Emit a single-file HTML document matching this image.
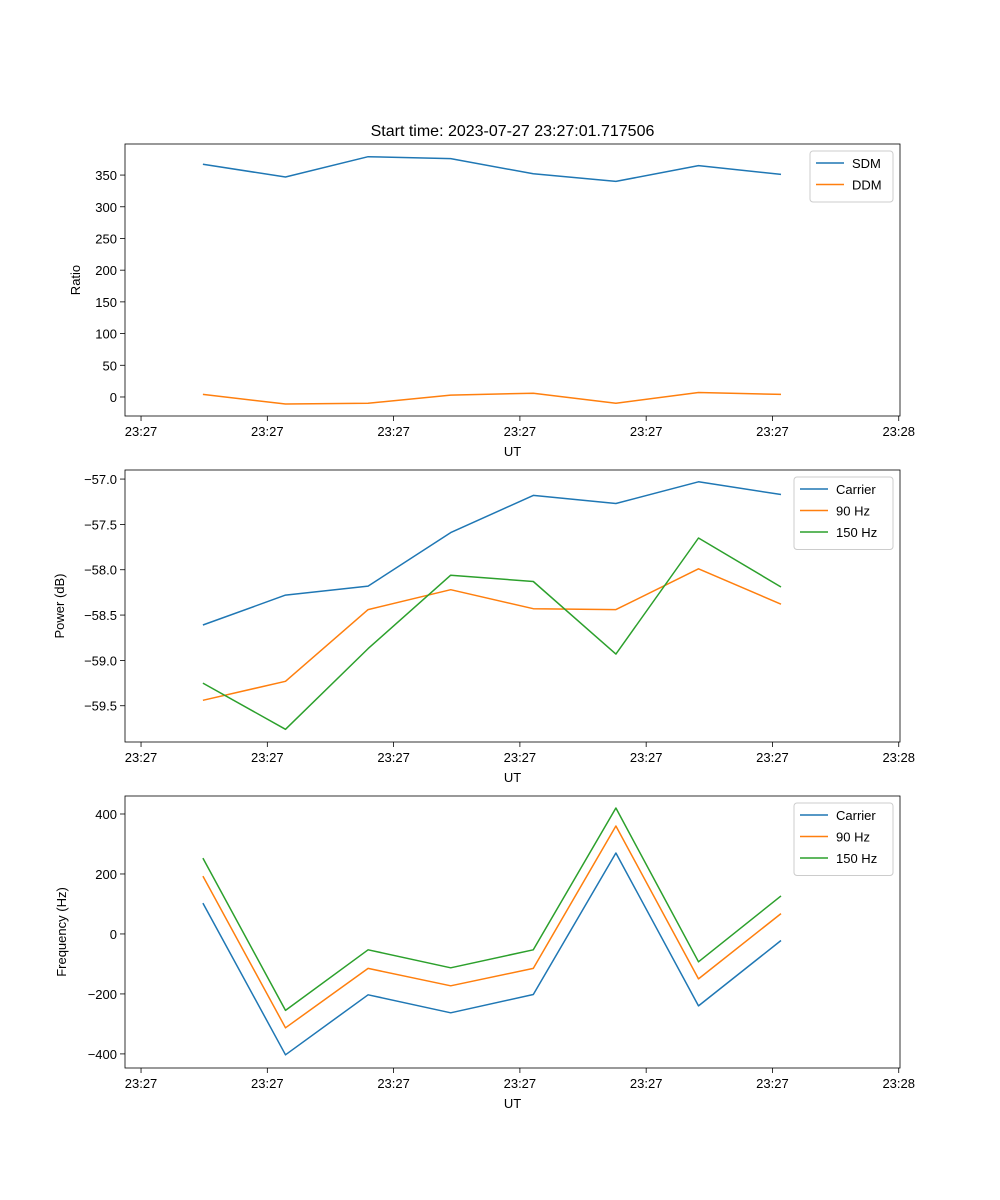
<!DOCTYPE html>
<html><head><meta charset="utf-8"><style>
html,body{margin:0;padding:0;background:#fff;}
svg{display:block;font-family:"Liberation Sans","DejaVu Sans",sans-serif;}
</style></head><body>
<svg id="fig" width="1000" height="1200" xmlns="http://www.w3.org/2000/svg"></svg>
<script>
// shared time axis (seconds after 23:27:00)
const times = [4.9, 11.44, 17.98, 24.52, 31.06, 37.6, 44.14, 50.68];
const xTickVals = [0, 10, 20, 30, 40, 50, 60];
const xTickLabels = ["23:27","23:27","23:27","23:27","23:27","23:27","23:28"];
// panel 1
const sdm = [367, 347, 379, 376, 352, 340, 365, 351];
const ddm = [4, -11, -10, 3, 6, -10, 7, 4];
const ratioTicks = [0, 50, 100, 150, 200, 250, 300, 350];
// panel 2
const powCarrier = [-58.61, -58.28, -58.18, -57.59, -57.18, -57.27, -57.03, -57.17];
const pow90 = [-59.44, -59.23, -58.44, -58.22, -58.43, -58.44, -57.99, -58.38];
const pow150 = [-59.25, -59.76, -58.87, -58.06, -58.13, -58.93, -57.65, -58.19];
const powTicks = [-59.5, -59.0, -58.5, -58.0, -57.5, -57.0];
// panel 3
const frqCarrier = [103, -403, -203, -263, -202, 270, -240, -22];
const frq90 = [193, -313, -115, -173, -115, 360, -150, 68];
const frq150 = [253, -255, -53, -113, -53, 420, -93, 127];
const frqTicks = [-400, -200, 0, 200, 400];

const NS="http://www.w3.org/2000/svg";
const svg=document.getElementById('fig');
function mk(tag,attrs,parent){const e=document.createElementNS(NS,tag);for(const k in attrs)e.setAttribute(k,attrs[k]);(parent||svg).appendChild(e);return e;}
const X0=125,X1=900,XMIN=-1.27,XMAX=60.1;
function sx(t){return X0+(t-XMIN)/(XMAX-XMIN)*(X1-X0);}
const C=["#1f77b4","#ff7f0e","#2ca02c"];
function fmt(v,d){let s=v.toFixed(d);return s.replace('-','\u2212');}

function panel(name,top,bot,ymin,ymax,ticks,dec,ylabel,ylabelX,series,names,leg){
  const g=mk('g',{});
  
  
  const sy=v=>bot-(v-ymin)/(ymax-ymin)*(bot-top);
  // series
  series.forEach((s,i)=>{
    const p=mk('polyline',{points:s.map((v,j)=>sx(times[j]).toFixed(1)+','+sy(v).toFixed(1)).join(' '),fill:'none',stroke:C[i],'stroke-width':1.5,'stroke-linejoin':'round'},g);
    
    
  });
  const fr=mk('rect',{x:X0,y:top,width:X1-X0,height:bot-top,fill:'none',stroke:'#000','stroke-width':0.8},g);
  
  
  xTickVals.forEach((t,i)=>{
    const x=sx(t);
    mk('line',{x1:x,x2:x,y1:bot,y2:bot+5,stroke:'#000','stroke-width':0.8},g);
    const tx=mk('text',{x:x,y:bot+20,'font-size':13,'text-anchor':'middle'},g);
    tx.textContent=xTickLabels[i];
    
    
  });
  const xl=mk('text',{x:(X0+X1)/2,y:bot+40,'font-size':13,'text-anchor':'middle'},g);
  xl.textContent='UT';
  
  
  ticks.forEach(v=>{
    const y=sy(v);
    mk('line',{x1:X0-5,x2:X0,y1:y,y2:y,stroke:'#000','stroke-width':0.8},g);
    const tx=mk('text',{x:X0-8,y:y+5,'font-size':13,'text-anchor':'end'},g);
    tx.textContent=fmt(v,dec);
    
    
  });
  const yl=mk('text',{x:ylabelX,y:(top+bot)/2,'font-size':13,'text-anchor':'middle',transform:`rotate(-90 ${ylabelX} ${(top+bot)/2})`},g);
  yl.textContent=ylabel;
  
  
  // legend
  const lg=mk('g',{},g);
  
  
  mk('rect',{x:leg[0],y:top+7,width:leg[1],height:8+names.length*21.5,rx:3,fill:'#fff','fill-opacity':0.8,stroke:'#ccc','stroke-width':1},lg);
  names.forEach((n,i)=>{
    const y=top+19+i*21.5;
    mk('line',{x1:leg[0]+6,x2:leg[0]+34,y1:y,y2:y,stroke:C[i],'stroke-width':1.5},lg);
    const tx=mk('text',{x:leg[0]+42,y:y+5,'font-size':13},lg);
    tx.textContent=n;
    
    
  });
}
const title=mk('text',{x:512.5,y:136,'font-size':16,'text-anchor':'middle'});
title.textContent='Start time: 2023-07-27 23:27:01.717506';


panel('ratio-panel',144,416,-30,399,ratioTicks,0,'Ratio',80,[sdm,ddm],['SDM','DDM'],[810,83]);
panel('power-panel',470,742,-59.9,-56.9,powTicks,1,'Power (dB)',64,[powCarrier,pow90,pow150],['Carrier','90 Hz','150 Hz'],[794,99]);
panel('frequency-panel',796,1068,-447,460,frqTicks,0,'Frequency (Hz)',66,[frqCarrier,frq90,frq150],['Carrier','90 Hz','150 Hz'],[794,99]);
</script>
</body></html>
